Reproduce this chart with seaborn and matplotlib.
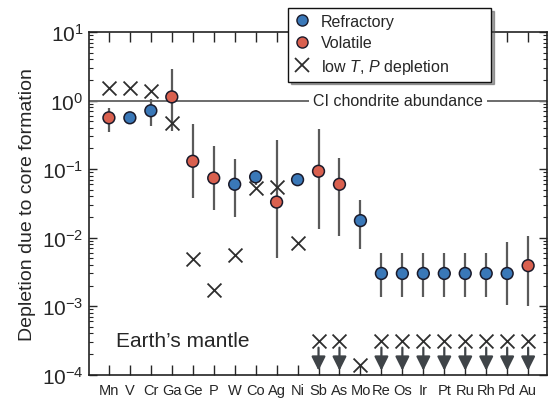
import numpy as np
import pandas as pd
import matplotlib
matplotlib.use("Agg")
import matplotlib.pyplot as plt
from matplotlib.lines import Line2D
from matplotlib.ticker import LogLocator, FuncFormatter, NullFormatter
import seaborn as sns

elements = ["Mn", "V", "Cr", "Ga", "Ge", "P", "W", "Co", "Ag", "Ni", "Sb",
            "As", "Mo", "Re", "Os", "Ir", "Pt", "Ru", "Rh", "Pd", "Au"]
kind = ["Volatile", "Refractory", "Refractory", "Volatile", "Volatile", "Volatile",
        "Refractory", "Refractory", "Volatile", "Refractory", "Volatile", "Volatile",
        "Refractory", "Refractory", "Refractory", "Refractory", "Refractory",
        "Refractory", "Refractory", "Refractory", "Volatile"]
depletion = [0.56, 0.56, 0.71, 1.13, 0.13, 0.074, 0.060, 0.077, 0.033, 0.070, 0.093,
             0.060, 0.0177, 0.0030, 0.0030, 0.0030, 0.0030, 0.0030, 0.0030, 0.0030, 0.0039]
err_high = [0.79, 0.66, 1.05, 2.9, 0.45, 0.22, 0.14, 0.098, 0.27, 0.083, 0.39,
            0.145, 0.035, 0.0060, 0.0060, 0.0060, 0.0060, 0.0060, 0.0060, 0.0087, 0.0105]
err_low = [0.35, 0.46, 0.42, 0.36, 0.038, 0.025, 0.020, 0.059, 0.005, 0.059, 0.0133,
           0.0105, 0.0069, 0.00138, 0.00138, 0.00138, 0.00138, 0.00138, 0.00138, 0.00105, 0.0010]
lowTP = [1.5, 1.5, 1.37, 0.47, 0.0049, 0.0017, 0.0056, 0.053, 0.055, 0.0083, 3.1e-4,
         3.1e-4, 1.4e-4, 3.1e-4, 3.1e-4, 3.1e-4, 3.1e-4, 3.1e-4, 3.1e-4, 3.1e-4, 3.1e-4]
upper_limit = [False] * 10 + [True, True, False] + [True] * 8

palette = {"Refractory": "#3a78b8", "Volatile": "#d9604f"}

df = pd.DataFrame({"element": elements, "kind": kind, "depletion": depletion,
                   "hi": err_high, "lo": err_low, "lowTP": lowTP, "ul": upper_limit})
df["x"] = np.arange(len(df))

sns.set_style("ticks")
plt.rcParams["font.family"] = ["Liberation Sans", "DejaVu Sans"]
plt.rcParams["mathtext.fontset"] = "custom"
plt.rcParams["mathtext.rm"] = "Liberation Sans"
plt.rcParams["mathtext.it"] = "Liberation Sans:italic"

fig = plt.figure(figsize=(5.48, 4.02), dpi=100)
ax = fig.add_axes([89 / 548, 1 - 375.7 / 402, (547 - 89) / 548, (375.7 - 33) / 402])

# CI chondrite line
ax.axhline(1.0, color="#6b6b6b", lw=1.4, zorder=1)
ax.text(13.8, 1.0, "CI chondrite abundance", ha="center", va="center", fontsize=11.5,
        bbox=dict(facecolor="white", edgecolor="none", pad=3), zorder=2)

# error bars
ax.vlines(df["x"], df["lo"], df["hi"], color="#5a5a5a", lw=1.6, zorder=2)

# low T,P depletion crosses
sns.scatterplot(data=df, x="x", y="lowTP", marker="x", s=100, color="#2e2e2e",
                linewidth=1.3, ax=ax, zorder=3, legend=False)

# upper-limit arrows
for xi, v, ul in zip(df["x"], df["lowTP"], df["ul"]):
    if ul:
        ax.annotate("", xy=(xi, v * 0.37), xytext=(xi, v * 0.80),
                    arrowprops=dict(arrowstyle="-|>", color="#3f4448", lw=1.6,
                                    mutation_scale=21, shrinkA=0, shrinkB=0),
                    zorder=3)

# points
sns.scatterplot(data=df, x="x", y="depletion", hue="kind", palette=palette, s=72,
                edgecolor="#1a1a2a", linewidth=1.1, ax=ax, zorder=4, legend=False)

ax.set_yscale("log")
ax.set_ylim(1e-4, 10)
ax.set_xlim(-0.95, 20.9)
ax.set_xticks(df["x"])
ax.set_xticklabels(elements, fontsize=10.5)
ax.set_xlabel("")
ax.set_ylabel("Depletion due to core formation", fontsize=14, labelpad=4)

ax.yaxis.set_major_locator(LogLocator(base=10, numticks=10))
ax.yaxis.set_minor_locator(LogLocator(base=10, subs=np.arange(2, 10), numticks=10))
ax.yaxis.set_major_formatter(FuncFormatter(lambda v, p: r"$10^{%d}$" % round(np.log10(v))))
ax.yaxis.set_minor_formatter(NullFormatter())
ax.tick_params(axis="y", which="major", direction="in", length=6, width=1.0,
               labelsize=15, left=True, right=True, pad=4)
ax.tick_params(axis="y", which="minor", direction="in", length=3, width=0.8,
               left=True, right=True)
ax.tick_params(axis="x", which="major", direction="in", length=7, width=1.0,
               top=True, bottom=True, pad=6)
ax.tick_params(axis="x", which="minor", bottom=False, top=False)
for s in ax.spines.values():
    s.set_linewidth(1.2)
    s.set_color("#222222")

ax.text(0.06, 0.10, "Earth\u2019s mantle", transform=ax.transAxes, fontsize=15,
        ha="left", va="center")

handles = [
    Line2D([], [], marker="o", ls="none", markersize=8, markerfacecolor=palette["Refractory"],
           markeredgecolor="#1a1a2a", markeredgewidth=1.0),
    Line2D([], [], marker="o", ls="none", markersize=8, markerfacecolor=palette["Volatile"],
           markeredgecolor="#1a1a2a", markeredgewidth=1.0),
    Line2D([], [], marker="x", ls="none", markersize=10, color="#2e2e2e", markeredgewidth=1.3),
]
leg = fig.legend(handles, ["Refractory", "Volatile", r"low $T$, $P$ depletion" + "\u2007" * 5],
                 loc="upper left", bbox_to_anchor=(288 / 548, 1 - 9 / 402), fontsize=11.5,
                 frameon=True, fancybox=False, shadow=True, edgecolor="#111111",
                 framealpha=1, labelspacing=0.42, handlelength=1.0, handletextpad=0.7,
                 borderpad=0.35, borderaxespad=0)
leg.get_frame().set_linewidth(1.0)

fig.savefig("out.png", dpi=100)
